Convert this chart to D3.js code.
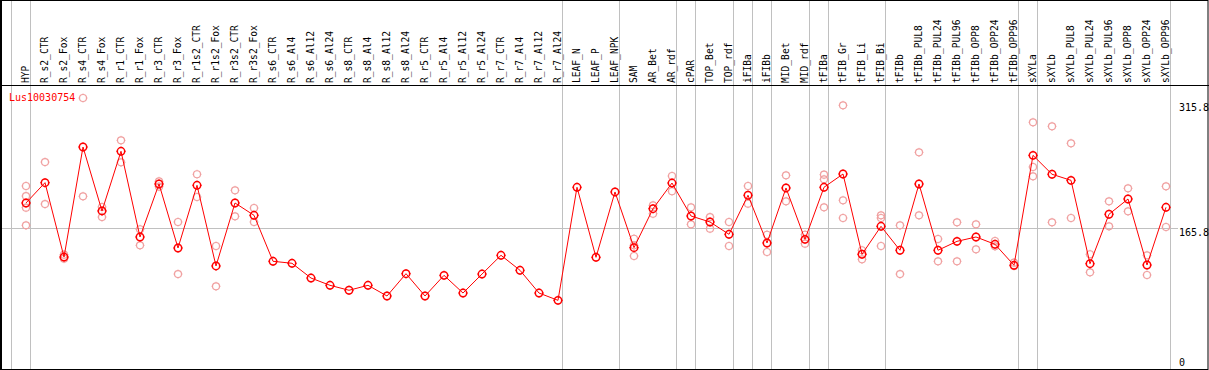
<!DOCTYPE html>
<html>
<head>
<meta charset="utf-8">
<script src="https://cdn.jsdelivr.net/npm/d3@7"></script>
<style>
html, body { margin: 0; padding: 0; background: #fff; }
svg { display: block; }
text { font-family: "DejaVu Sans Mono", monospace; }
</style>
</head>
<body>
<svg id="chart"></svg>
<script>
const geneName = 'Lus10030754'

const categories = [
  'HYP', 'R_s2_CTR', 'R_s2_Fox', 'R_s4_CTR', 'R_s4_Fox', 'R_r1_CTR', 'R_r1_Fox',
  'R_r3_CTR', 'R_r3_Fox', 'R_r1s2_CTR', 'R_r1s2_Fox', 'R_r3s2_CTR', 'R_r3s2_Fox',
  'R_s6_CTR', 'R_s6_Al4', 'R_s6_Al12', 'R_s6_Al24', 'R_s8_CTR', 'R_s8_Al4',
  'R_s8_Al12', 'R_s8_Al24', 'R_r5_CTR', 'R_r5_Al4', 'R_r5_Al12', 'R_r5_Al24',
  'R_r7_CTR', 'R_r7_Al4', 'R_r7_Al12', 'R_r7_Al24', 'LEAF_N', 'LEAF_P', 'LEAF_NPK',
  'SAM', 'AR_Bet', 'AR_rdf', 'cPAR', 'TOP_Bet', 'TOP_rdf', 'iFIBa', 'iFIBb',
  'MID_Bet', 'MID_rdf', 'tFIBa', 'tFIB_Gr', 'tFIB_Li', 'tFIB_Bi', 'tFIBb',
  'tFIBb_PUL8', 'tFIBb_PUL24', 'tFIBb_PUL96', 'tFIBb_OPP8', 'tFIBb_OPP24', 'tFIBb_OPP96',
  'sXYLa', 'sXYLb', 'sXYLb_PUL8', 'sXYLb_PUL24', 'sXYLb_PUL96', 'sXYLb_OPP8',
  'sXYLb_OPP24', 'sXYLb_OPP96'
]

// mean expression per sample
const means = [
  194.8, 218.2, 132.5, 259.3, 185.6, 254.4, 155.6, 216.7, 142.9, 215.2, 122.2, 194.8, 180.6,
  127.6, 125.3, 108.3, 99.9, 94.2, 99.9, 87.6, 113.3, 87.6, 111.4, 91.0, 112.9,
  134.5, 117.2, 91.0, 82.6, 212.9, 132.2, 207.5,
  143.3, 188.2, 217.8, 179.8, 172.9, 158.7, 203.7, 148.7,
  212.1, 152.9, 212.9, 228.2, 135.7, 167.9, 140.3,
  216.7, 140.3, 150.6, 155.6, 147.2, 123.0,
  249.7, 227.9, 220.9, 124.8, 181.8, 199.4, 123.3, 189.8
]

// individual replicates per sample
const replicates = [
  [214.4, 202.8, 189.4, 169.1], [242.0, 193.6], [135.2, 130.6], [315.8, 202.5],
  [190.2, 178.6], [267.0, 241.7], [164.5, 146.0], [219.8, 213.6], [172.9, 112.9],
  [227.9, 201.7], [145.2, 98.8], [209.4, 179.4], [189.0, 172.9],
  [], [], [], [], [], [], [], [], [], [], [], [], [], [], [], [],
  [], [], [],
  [153.6, 146.0, 133.7], [192.1, 182.4], [225.9, 208.3], [189.8, 170.2],
  [178.6, 165.2], [172.9, 145.2], [214.4, 194.0], [158.2, 138.3],
  [226.7, 196.7], [158.2, 147.9], [227.4, 222.1, 189.8], [307.4, 197.9, 177.5],
  [140.3, 129.9], [180.6, 177.5, 145.2], [169.1, 112.9],
  [253.2, 180.6], [153.3, 127.6], [172.5, 127.6], [170.2, 141.4], [151.0, 144.9], [126.0, 122.2],
  [287.8, 236.3, 225.5], [283.2, 172.5], [263.6, 177.5], [135.7, 114.9],
  [196.7, 167.9], [211.7, 185.2], [134.5, 111.8], [214.0, 167.1]
]

// samples closing a tissue group (gray separator after them)
const groupEnds = [
  'HYP', 'R_r7_Al24', 'LEAF_NPK', 'AR_rdf', 'cPAR', 'TOP_rdf', 'iFIBa', 'iFIBb',
  'MID_rdf', 'tFIBa', 'tFIB_Bi', 'tFIBb_OPP96', 'sXYLa', 'sXYLb_OPP96'
]

const yTicks = [315.8, 165.8, 0]
const yMax = 315.8

const W = 1209, H = 370
const headerY = 85

const svg = d3.select('#chart').attr('width', W).attr('height', H)

const x = d3.scaleBand().domain(categories).range([11, 1170]).padding(0)
const cx = c => x(c) + x.bandwidth() * 0.79
const y = d3.scaleLinear().domain([0, yMax]).range([372, 98])

const grey = '#c0c0c0'

// separators
const seps = [x(categories[0])].concat(groupEnds.map(c => x(c) + x.bandwidth()))
svg.append('g').selectAll('line')
  .data(seps)
  .enter().append('line')
    .attr('x1', d => d + 0.5).attr('x2', d => d + 0.5)
    .attr('y1', 0).attr('y2', H)
    .attr('stroke', grey).attr('stroke-width', 1)

// middle reference line
svg.append('line')
  .attr('x1', 0).attr('x2', 1178)
  .attr('y1', Math.round(y(yTicks[1])) + 0.5).attr('y2', Math.round(y(yTicks[1])) + 0.5)
  .attr('stroke', grey)

// frame + header rule
svg.append('rect')
  .attr('x', 0.5).attr('y', 0.5).attr('width', W - 1.5).attr('height', H - 1)
  .attr('fill', 'none').attr('stroke', '#000')
svg.append('line').attr('x1', 1).attr('x2', 1).attr('y1', 0).attr('y2', H)
  .attr('stroke', '#000').attr('stroke-width', 2)
svg.append('line').attr('x1', 0).attr('x2', W)
  .attr('y1', headerY + 0.5).attr('y2', headerY + 0.5)
  .attr('stroke', '#000')

// sample labels
svg.append('g').selectAll('text')
  .data(categories)
  .enter().append('text')
    .attr('transform', c => `translate(${cx(c) + 3},${headerY - 2}) rotate(-90)`)
    .attr('font-size', '9.6px')
    .attr('fill', '#000')
    .text(c => c)

// y labels
svg.append('g').selectAll('text')
  .data(yTicks)
  .enter().append('text')
    .attr('x', 1179)
    .attr('y', d => Math.max(111, Math.min(366, y(d) + 8)))
    .attr('font-size', '10px')
    .attr('fill', '#000')
    .text(d => d)

svg.append('text')
  .attr('x', 9).attr('y', 101)
  .attr('font-size', '10px')
  .attr('fill', '#ff0000')
  .text(geneName)

const stubs = r => `M0,${-r}V${-r - 1}M0,${r}V${r + 1}M${-r},0H${-r - 1}M${r},0H${r + 1}`

function marker(sel, r, color, w){
  sel.append('circle').attr('r', r).attr('fill', 'none')
    .attr('stroke', color).attr('stroke-width', w)
  sel.append('path').attr('d', stubs(r)).attr('fill', 'none')
    .attr('stroke', color).attr('stroke-width', 1)
}

// replicate points
const repData = []
categories.forEach((c, i) => replicates[i].forEach(v => repData.push({ c, v })))
svg.append('g').selectAll('g')
  .data(repData)
  .enter().append('g')
    .attr('transform', d => `translate(${cx(d.c)},${y(d.v)})`)
    .call(marker, 3.5, '#f0a0a0', 1.2)

// mean line
const line = d3.line().x((d, i) => cx(categories[i])).y(d => y(d))
svg.append('path')
  .datum(means)
  .attr('d', line)
  .attr('fill', 'none')
  .attr('stroke', '#ff0000')
  .attr('stroke-width', 1)

svg.append('g').selectAll('g')
  .data(means)
  .enter().append('g')
    .attr('transform', (d, i) => `translate(${cx(categories[i])},${y(d)})`)
    .call(marker, 3.7, '#ff0000', 1.5)
</script>
</body>
</html>
